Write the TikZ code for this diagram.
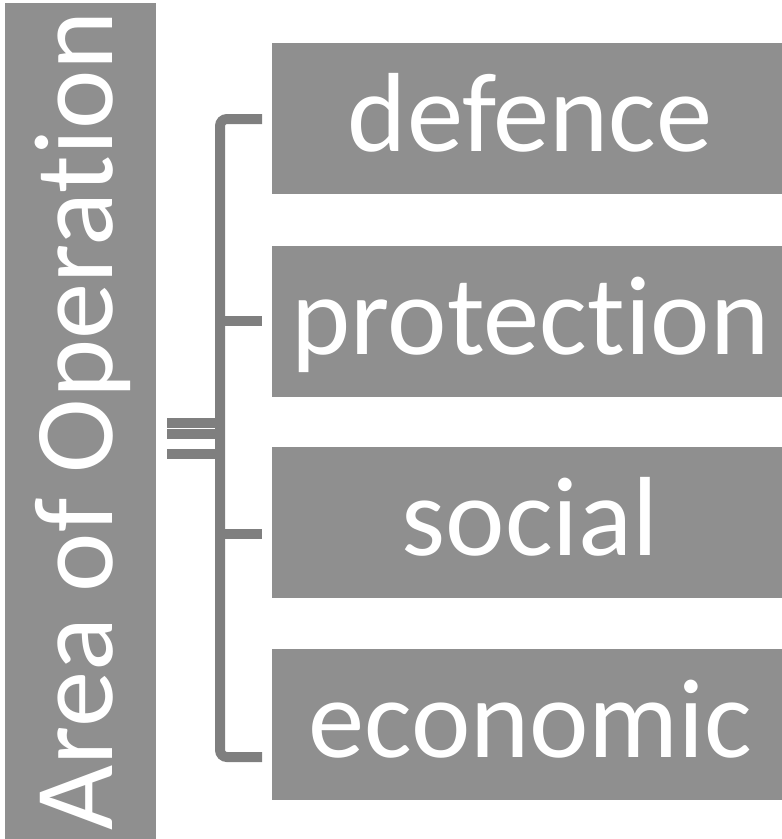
\documentclass[tikz,border=0pt]{standalone}
\usepackage{fontspec}
\setmainfont{Carlito}[Ligatures={NoCommon,NoRequired,NoContextual}]
\definecolor{boxgray}{RGB}{143,143,143}
\definecolor{linegray}{RGB}{127,127,127}
\begin{document}
\begin{tikzpicture}[x=1bp,y=-1bp,
  itembox/.style={rectangle,fill=boxgray,inner sep=0pt,minimum width=510bp,
    text height=108bp,text depth=43bp,text=white,anchor=north west,
    font=\fontsize{113}{120}\selectfont},
  conn/.style={draw=linegray,line width=10bp,line cap=butt}]
\useasboundingbox (0,0) rectangle (782,839);
\node[rectangle,fill=boxgray,inner sep=0pt,minimum width=836bp,
  text height=107bp,text depth=44bp,text=white,rotate=90,
  font=\fontsize{113}{120}\selectfont] (area) at (80.5,421) {Area of Operation};
\node[itembox] (defence) at (272,43) {\hspace{6bp}defence};
\node[itembox] (protection) at (272,246) {\hspace{6bp}protection};
\node[itembox] (social) at (272,447) {\hspace{6bp}social};
\node[itembox] (economic) at (272,649) {\hspace{6bp}economic};
\coordinate (t1) at (262,119);
\coordinate (t2) at (262,321);
\coordinate (t3) at (262,534);
\coordinate (t4) at (262,757);
\coordinate (top) at (220,119);
\coordinate (bot) at (220,757);
\coordinate (l1) at (167,423);
\coordinate (l2) at (167,434);
\coordinate (l3) at (167,454);
\draw[conn,rounded corners=7bp] (t1) -- (top) -- (bot) -- (t4);
\draw[conn] (t2 -| top) -- (t2);
\draw[conn] (t3 -| top) -- (t3);
\draw[conn] (l1) -- (l1 -| top);
\draw[conn] (l2) -- (l2 -| top);
\draw[conn] (l3) -- (l3 -| top);
\end{tikzpicture}
\end{document}
